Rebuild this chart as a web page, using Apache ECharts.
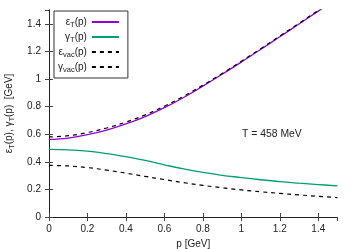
<!DOCTYPE html>
<html><head><meta charset="utf-8">
<script src="https://cdn.jsdelivr.net/npm/echarts@6/dist/echarts.min.js"></script>
<style>html,body{margin:0;padding:0;background:#fff}#c{width:356px;height:249px}</style>
</head><body><div id="c"></div>
<script>
const p      = [0,0.1,0.2,0.3,0.4,0.5,0.6,0.7,0.8,0.9,1.0,1.1,1.2,1.3,1.4,1.5];
const epsT   = [0.562,0.572,0.597,0.630,0.674,0.728,0.792,0.866,0.948,1.034,1.123,1.214,1.306,1.399,1.492,1.585];
const gamT   = [0.490,0.487,0.477,0.460,0.437,0.410,0.378,0.348,0.323,0.302,0.286,0.270,0.256,0.245,0.235,0.225];
const epsVac = [0.580,0.589,0.612,0.645,0.688,0.740,0.803,0.875,0.955,1.040,1.128,1.219,1.311,1.404,1.497,1.590];
const gamVac = [0.374,0.370,0.358,0.340,0.318,0.294,0.271,0.249,0.229,0.212,0.196,0.183,0.171,0.160,0.150,0.140];
const xTicks = [0,0.2,0.4,0.6,0.8,1,1.2,1.4];
const yTicks = [0,0.2,0.4,0.6,0.8,1,1.2,1.4];
const annotation = 'T = 458 MeV';

const F = 'Liberation Sans, Arial, sans-serif';
const pair = a => p.map((x,i)=>[x,a[i]]);
const legendNames = {
  eT: '{g|ε}{s|T}{g|(p)}',
  gT: '{g|γ}{s|T}{g|(p)}',
  eV: '{g|ε}{s|vac}{g|(p)}',
  gV: '{g|γ}{s|vac}{g|(p)}'
};
const rich = {
  g: {fontSize: 10, fontFamily: F, color: '#222'},
  s: {fontSize: 7.5, fontFamily: F, color: '#222', padding: [6,0,0,0]}
};
const axisCommon = {
  type: 'value', min: 0, max: 1.5, interval: 0.2,
  splitLine: {show: false},
  axisLine: {show: true, lineStyle: {color: '#222', width: 1}},
  axisTick: {show: true, inside: true, length: 4, lineStyle: {color: '#444'}},
};
const chart = echarts.init(document.getElementById('c'), null, {renderer: 'canvas'});
chart.setOption({
  animation: false,
  backgroundColor: '#fff',
  grid: {left: 49, right: 18.5, top: 10, bottom: 32, containLabel: false, outerBoundsMode: 'none'},
  xAxis: [
    Object.assign({}, axisCommon, {
      position: 'bottom',
      name: 'p [GeV]', nameLocation: 'middle', nameGap: 18,
      nameTextStyle: {fontSize: 10, fontFamily: F, color: '#222'},
      axisLabel: {fontSize: 10, fontFamily: F, color: '#222', margin: 7, showMaxLabel: false,
        formatter: v => xTicks.some(t=>Math.abs(t-v)<1e-9) ? String(+v.toFixed(1)) : ''}
    }),
    Object.assign({}, axisCommon, {position: 'top', axisLabel: {show: false}})
  ],
  yAxis: [
    Object.assign({}, axisCommon, {
      position: 'left',
      name: '{g|ε}{s|T}{g|(p), γ}{s|T}{g|(p)  [GeV]}', nameLocation: 'middle', nameGap: 33,
      nameTextStyle: {rich: rich},
      axisLabel: {fontSize: 10, fontFamily: F, color: '#222', margin: 8, showMaxLabel: false,
        formatter: v => yTicks.some(t=>Math.abs(t-v)<1e-9) ? String(+v.toFixed(1)) : ''}
    }),
    Object.assign({}, axisCommon, {position: 'right', axisLabel: {show: false}})
  ],
  legend: {
    orient: 'vertical', left: 54, top: 11, align: 'right',
    padding: [6,8,4,4], itemGap: 3, itemWidth: 27, itemHeight: 12,
    borderColor: '#333', borderWidth: 1, borderRadius: 0, backgroundColor: '#fff',
    itemStyle: {opacity: 0},
    textStyle: {width: 32, align: 'right', rich: rich},
    formatter: n => legendNames[n],
    data: ['eT','gT','eV','gV']
  },
  graphic: [{type: 'text', left: 242, top: 129, style: {text: annotation, font: '10.4px ' + F, fill: '#222'}}],
  series: [
    {name: 'eT', type: 'line', data: pair(epsT), smooth: 0.4, symbol: 'none', lineStyle: {color: '#9400d3', width: 1.3}, itemStyle: {color: '#9400d3'}, z: 2},
    {name: 'gT', type: 'line', data: pair(gamT), smooth: 0.4, symbol: 'none', lineStyle: {color: '#009e73', width: 1.3}, itemStyle: {color: '#009e73'}, z: 2},
    {name: 'eV', type: 'line', data: pair(epsVac), smooth: 0.4, symbol: 'none', lineStyle: {color: '#000', width: 1.2, type: [4,4]}, itemStyle: {color: '#000'}, z: 3},
    {name: 'gV', type: 'line', data: pair(gamVac), smooth: 0.4, symbol: 'none', lineStyle: {color: '#000', width: 1.2, type: [4,4]}, itemStyle: {color: '#000'}, z: 3}
  ]
});
</script></body></html>
